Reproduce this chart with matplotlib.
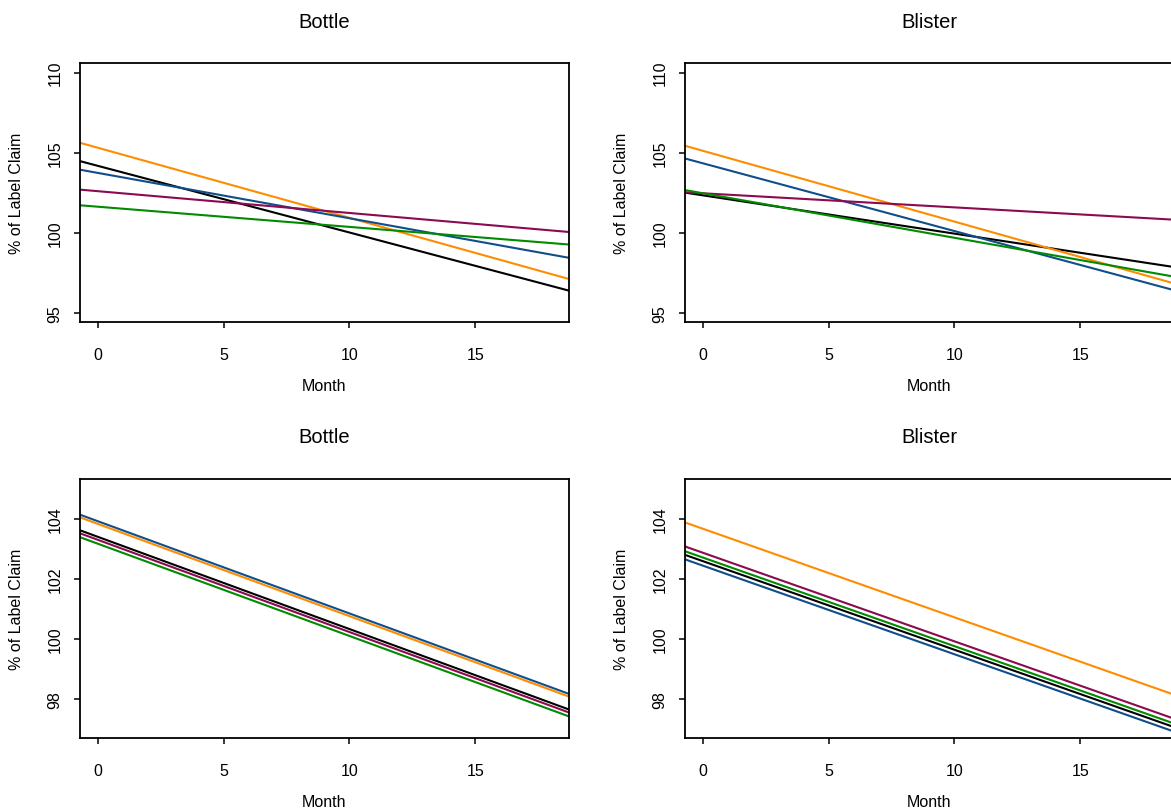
import matplotlib
matplotlib.use("Agg")
import matplotlib.pyplot as plt
from matplotlib.patches import Circle

plt.rcParams['font.family'] = ['Liberation Sans', 'DejaVu Sans']

# ---- data (intercept at month 0, slope per month) ----
series = ["black", "orange", "blue", "purple", "green"]
colors = {"black": "#000000", "orange": "#FF8C00", "blue": "#104E8B",
          "purple": "#8B0A50", "green": "#008B00"}

# Top row: separate slopes
bottle_sep_intercept = [104.17, 105.30, 103.73, 102.59, 101.62]
bottle_sep_slope = [-0.416, -0.4375, -0.283, -0.136, -0.126]
blister_sep_intercept = [102.33, 105.11, 104.33, 102.46, 102.46]
blister_sep_slope = [-0.239, -0.442, -0.423, -0.088, -0.278]

# Bottom row: common slope
bottle_com_intercept = [103.39, 103.82, 103.91, 103.29, 103.16]
bottle_com_slope = [-0.307, -0.307, -0.307, -0.307, -0.307]
blister_com_intercept = [102.58, 103.66, 102.43, 102.86, 102.70]
blister_com_slope = [-0.295, -0.295, -0.295, -0.295, -0.295]

titles = ["Bottle", "Blister", "Bottle", "Blister"]
x_ticks = [0, 5, 10, 15]
yticks_top = [95, 100, 105, 110]
yticks_bottom = [98, 100, 102, 104]
xlim = (-0.72, 18.72)
ylim_top = (94.4, 110.6)
ylim_bottom = (96.68, 105.32)

W, H = 1171, 812
fig = plt.figure(figsize=(W / 100, H / 100), dpi=100)

# faint watermark circle at bottom
fig.patches.append(Circle((263 / W, 1 - 977 / H), 200 / W, transform=fig.transFigure,
                          facecolor="#f1f1f1", edgecolor="none", zorder=0))

box_w = 488.7
box_h = 259.3
panels = [
    (80, 64, bottle_sep_intercept, bottle_sep_slope, ylim_top, yticks_top, titles[0]),
    (685, 64, blister_sep_intercept, blister_sep_slope, ylim_top, yticks_top, titles[1]),
    (80, 480, bottle_com_intercept, bottle_com_slope, ylim_bottom, yticks_bottom, titles[2]),
    (685, 480, blister_com_intercept, blister_com_slope, ylim_bottom, yticks_bottom, titles[3]),
]

for left, top, icpt, slp, ylim, yt, title in panels:
    ax = fig.add_axes([left / W, 1 - (top + box_h) / H, box_w / W, box_h / H])
    ax.set_xlim(*xlim)
    ax.set_ylim(*ylim)
    for name, b0, b1 in zip(series, icpt, slp):
        ax.axline((0, b0), slope=b1, color=colors[name], lw=1.5)
    ax.set_xticks(x_ticks)
    ax.set_yticks(yt)
    ax.set_yticklabels([str(v) for v in yt], rotation=90, va="center")
    ax.tick_params(direction="out", length=4.5, width=1.1, labelsize=11.5, colors="black")
    ax.tick_params(axis="x", pad=13)
    ax.tick_params(axis="y", pad=8)
    for s in ax.spines.values():
        s.set_linewidth(1.3)
    ax.set_xlabel("Month", fontsize=11.5)
    ax.xaxis.label.set(va="center")
    ax.xaxis.set_label_coords(0.5, -63 / box_h)
    ax.set_ylabel("% of Label Claim", fontsize=11.5)
    ax.yaxis.label.set(va="center", ha="center", rotation_mode="default")
    ax.yaxis.set_label_coords(-63 / box_w, 0.5)
    ax.text(0.5, 1 + 42 / box_h, title, transform=ax.transAxes, ha="center", va="center",
            fontsize=14.5)

fig.savefig("out.png", dpi=100)
